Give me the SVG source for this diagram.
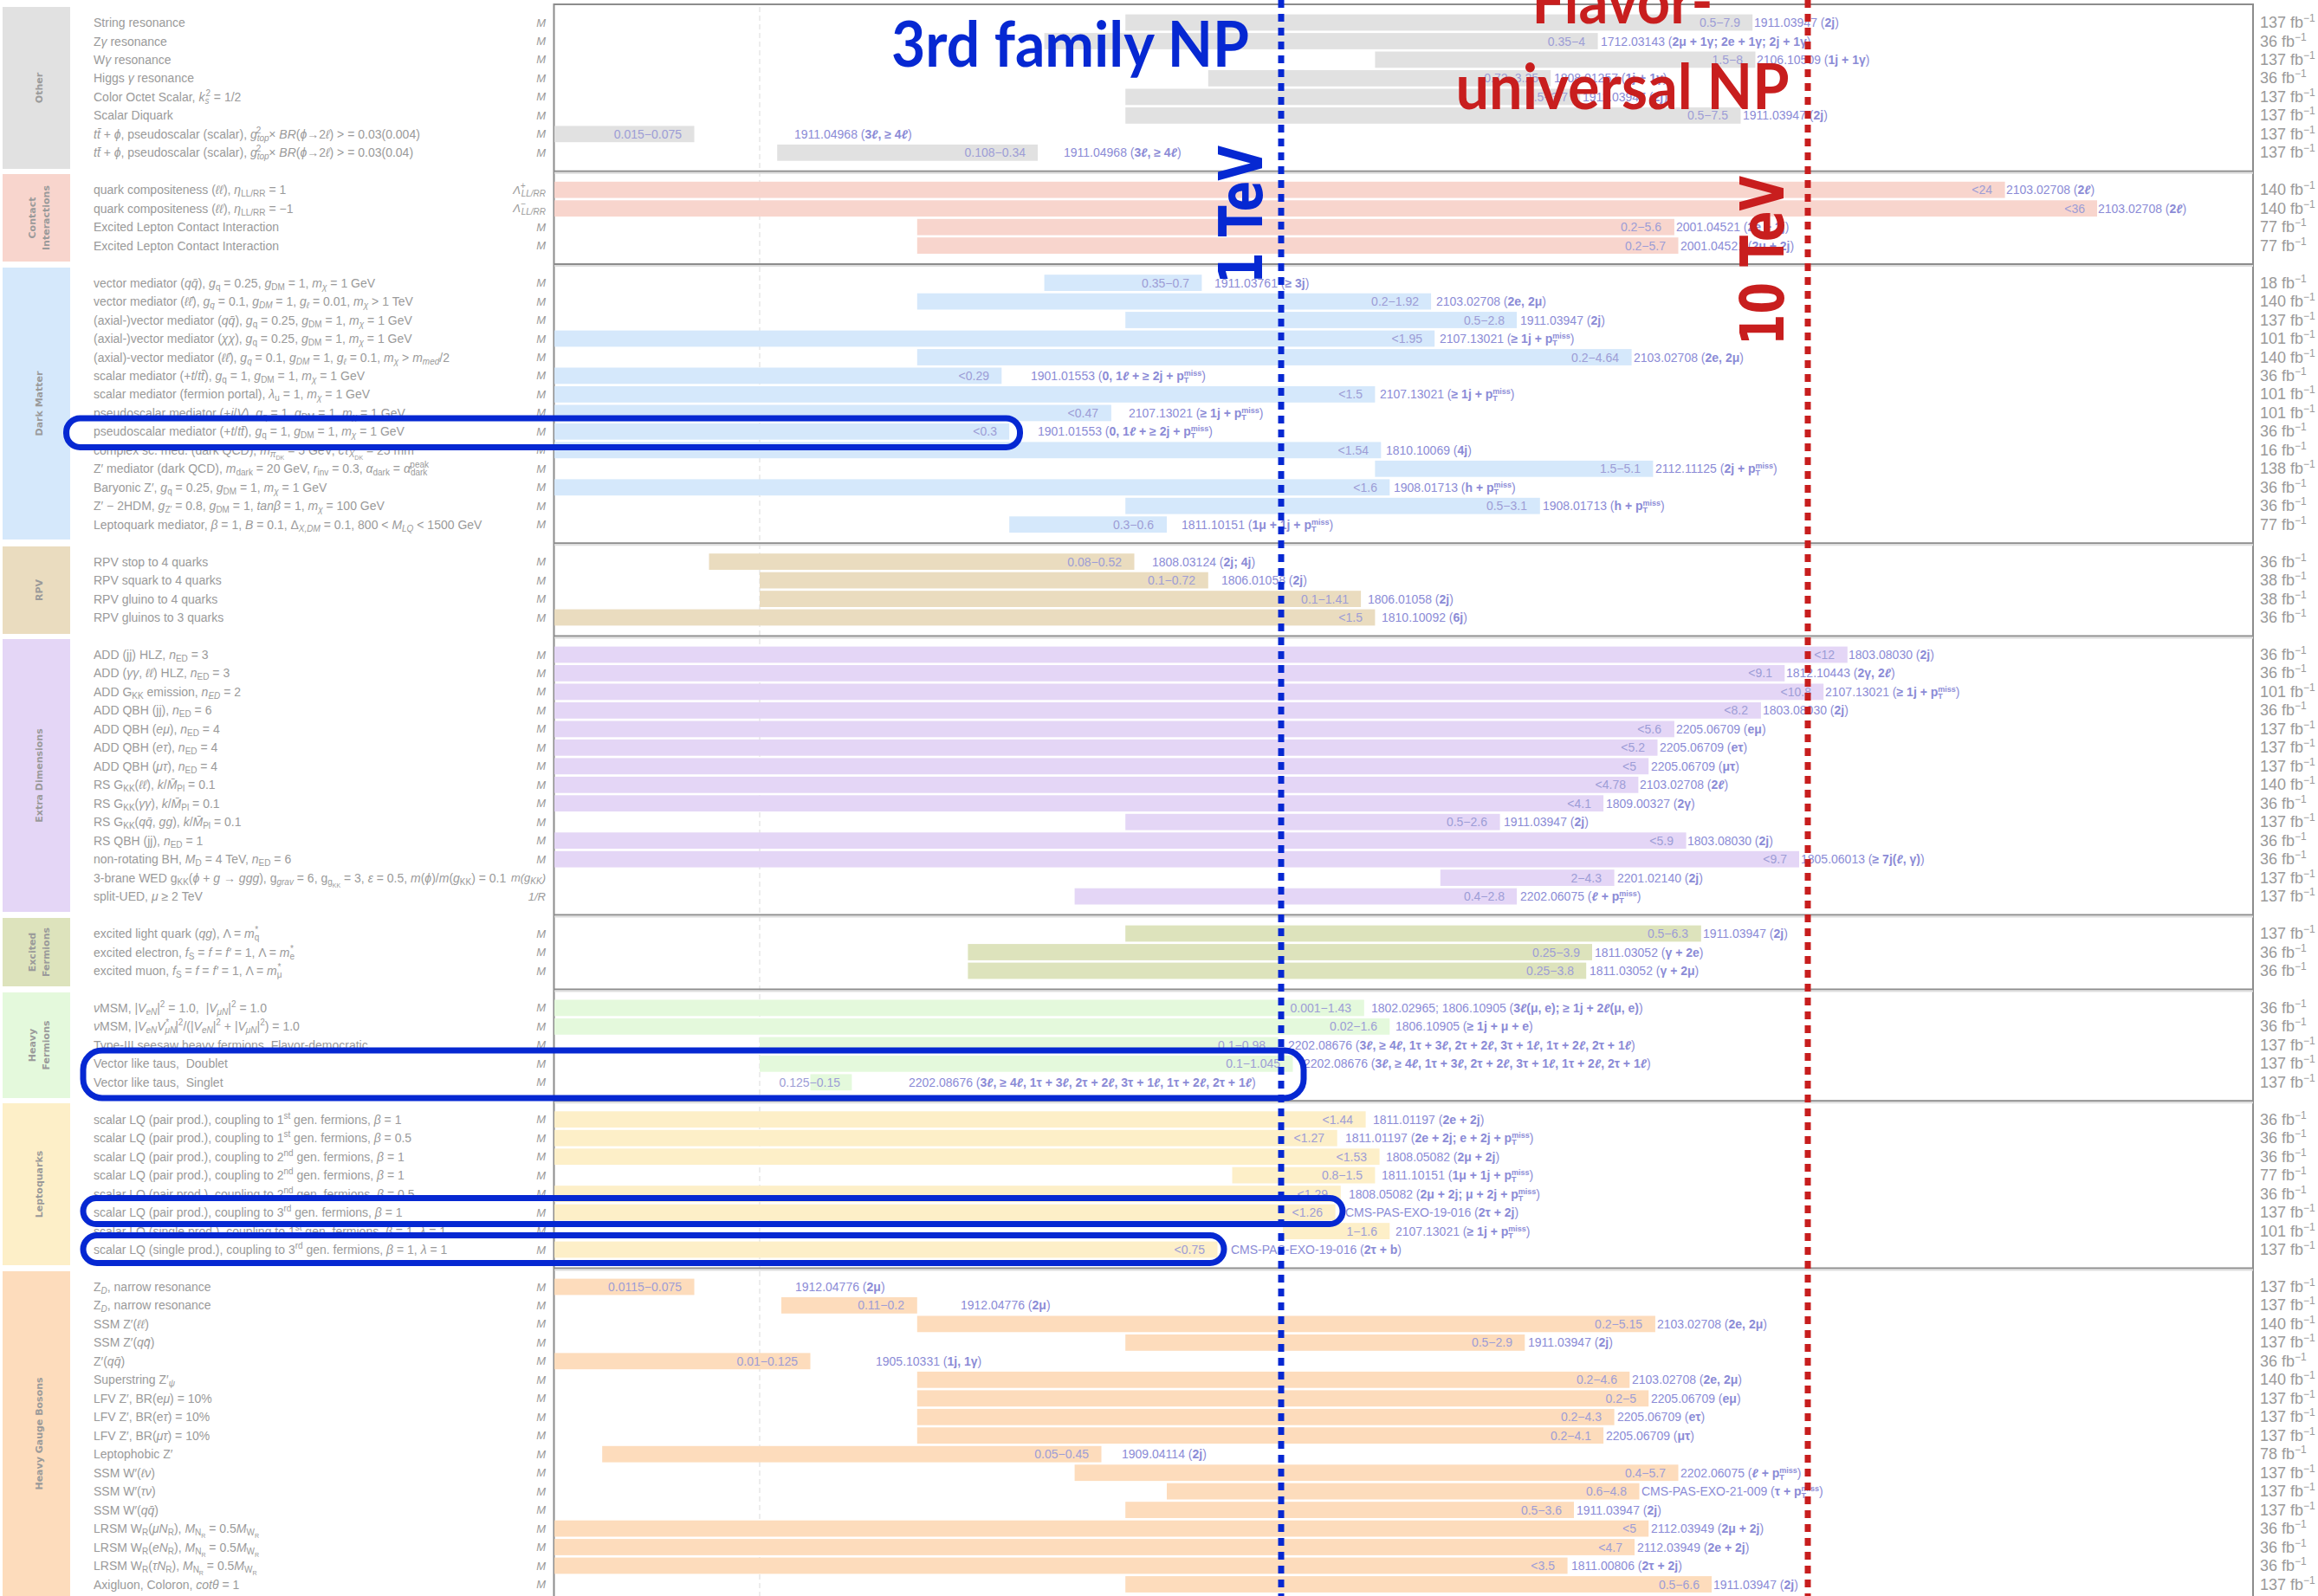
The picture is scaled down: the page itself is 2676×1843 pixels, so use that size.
<svg xmlns="http://www.w3.org/2000/svg" width="2676" height="1843" viewBox="0 0 2676 1843">
<style>
text{font-family:"Liberation Sans",Arial,sans-serif}
.lab{font-size:14px;fill:#9a9a9a}
.mm{font-size:13px;font-style:italic;fill:#9a9a9a;text-anchor:end}
.rng{font-size:14px;fill:#9d9dd6;text-anchor:end}
.ref{font-size:14px;fill:#8b8bd6}
.lumi{font-size:18px;fill:#9a9a9a}
.cat{font-family:"DejaVu Sans",sans-serif;font-size:11px;font-weight:bold;fill:#9a9a9a;text-anchor:middle}
.b{font-weight:bold}
.i{font-style:italic}
.s{font-size:10px;baseline-shift:-3px}
.u{font-size:10px;baseline-shift:6px}
.ss{font-size:7px;baseline-shift:-6px}
.rs{font-size:9px;baseline-shift:-3px}
.ru{font-size:9px;baseline-shift:5px}
.lu{font-size:12px;baseline-shift:7px}
.c0{fill:#e1e1e1}.c1{fill:#f8d5cd}.c2{fill:#d5e8fb}.c3{fill:#eadcbf}.c4{fill:#e4d6f6}.c5{fill:#dde3bc}.c6{fill:#e4f9dc}.c7{fill:#fdefc8}.c8{fill:#fddcbc}
.sep{stroke:#8c8c8c;stroke-width:2}
.sep2{stroke:#dedede;stroke-width:2}
.frame{stroke:#8c8c8c;stroke-width:2;fill:none}
.hl{fill:none;stroke:#0628d2;stroke-width:7}
.big{font-family:Lato,"Liberation Sans",sans-serif;font-weight:bold;font-size:72px}
.bigd{font-family:"DejaVu Sans",sans-serif;font-weight:bold;font-size:70px}
</style>

<g id="categories">
<g id="cat-other"><rect class="c0" x="3" y="8" width="78" height="187"/><text class="cat" transform="translate(49,101.5) rotate(-90)">Other</text></g>
<g id="cat-contact"><rect class="c1" x="3" y="201" width="78" height="101"/><text class="cat" transform="translate(41,251.5) rotate(-90)">Contact</text><text class="cat" transform="translate(57,251.5) rotate(-90)">Interactions</text></g>
<g id="cat-dm"><rect class="c2" x="3" y="309" width="78" height="314"/><text class="cat" transform="translate(49,466) rotate(-90)">Dark Matter</text></g>
<g id="cat-rpv"><rect class="c3" x="3" y="631" width="78" height="101"/><text class="cat" transform="translate(49,681.5) rotate(-90)">RPV</text></g>
<g id="cat-ed"><rect class="c4" x="3" y="738" width="78" height="315"/><text class="cat" transform="translate(49,895.5) rotate(-90)">Extra Dimensions</text></g>
<g id="cat-exf"><rect class="c5" x="3" y="1060" width="78" height="79"/><text class="cat" transform="translate(41,1099.5) rotate(-90)">Excited</text><text class="cat" transform="translate(57,1099.5) rotate(-90)">Fermions</text></g>
<g id="cat-hf"><rect class="c6" x="3" y="1146" width="78" height="122"/><text class="cat" transform="translate(41,1207) rotate(-90)">Heavy</text><text class="cat" transform="translate(57,1207) rotate(-90)">Fermions</text></g>
<g id="cat-lq"><rect class="c7" x="3" y="1274" width="78" height="187"/><text class="cat" transform="translate(49,1367.5) rotate(-90)">Leptoquarks</text></g>
<g id="cat-hgb"><rect class="c8" x="3" y="1468" width="78" height="375"/><text class="cat" transform="translate(49,1655.5) rotate(-90)">Heavy Gauge Bosons</text></g>
</g>

<g id="frame">
<line x1="877" y1="8" x2="877" y2="1843" stroke="#e8e8e8" stroke-width="1.5" stroke-dasharray="6 4"/>
<path class="frame" d="M639.5,1843 V5 H2601 V1843"/>
<line class="sep" x1="640" y1="197.8" x2="2601" y2="197.8"/><line class="sep2" x1="640" y1="199.8" x2="2601" y2="199.8"/>
<line class="sep" x1="640" y1="305.1" x2="2601" y2="305.1"/><line class="sep2" x1="640" y1="307.1" x2="2601" y2="307.1"/>
<line class="sep" x1="640" y1="627.2" x2="2601" y2="627.2"/><line class="sep2" x1="640" y1="629.2" x2="2601" y2="629.2"/>
<line class="sep" x1="640" y1="734.5" x2="2601" y2="734.5"/><line class="sep2" x1="640" y1="736.5" x2="2601" y2="736.5"/>
<line class="sep" x1="640" y1="1056.6" x2="2601" y2="1056.6"/><line class="sep2" x1="640" y1="1058.6" x2="2601" y2="1058.6"/>
<line class="sep" x1="640" y1="1142.4" x2="2601" y2="1142.4"/><line class="sep2" x1="640" y1="1144.4" x2="2601" y2="1144.4"/>
<line class="sep" x1="640" y1="1271.3" x2="2601" y2="1271.3"/><line class="sep2" x1="640" y1="1273.3" x2="2601" y2="1273.3"/>
<line class="sep" x1="640" y1="1464.5" x2="2601" y2="1464.5"/><line class="sep2" x1="640" y1="1466.5" x2="2601" y2="1466.5"/>
</g>

<g id="rows">
<!-- Other -->
<g id="r0" transform="translate(0,26)"><rect class="c0" x="1299.2" y="-9.4" width="724" height="18.8"/><text class="lab" x="108" y="5">String resonance</text><text class="mm" x="630" y="4.5">M</text><text class="rng" x="2009" y="5">0.5−7.9</text><text class="ref" x="2025" y="5">1911.03947 (<tspan class="b">2j</tspan>)</text><text class="lumi" x="2609" y="6">137 fb<tspan class="lu">−1</tspan></text></g>
<g id="r1" transform="translate(0,47.5)"><rect class="c0" x="1205.6" y="-9.4" width="639" height="18.8"/><text class="lab" x="108" y="5">Z<tspan class="i">γ</tspan> resonance</text><text class="mm" x="630" y="4.5">M</text><text class="rng" x="1830" y="5">0.35−4</text><text class="ref" x="1848" y="5">1712.03143 (<tspan class="b">2μ + 1γ; 2e + 1γ; 2j + 1γ</tspan>)</text><text class="lumi" x="2609" y="6">36 fb<tspan class="lu">−1</tspan></text></g>
<g id="r2" transform="translate(0,68.9)"><rect class="c0" x="1587.4" y="-9.4" width="439.1" height="18.8"/><text class="lab" x="108" y="5">W<tspan class="i">γ</tspan> resonance</text><text class="mm" x="630" y="4.5">M</text><text class="rng" x="2012" y="5">1.5−8</text><text class="ref" x="2028" y="5">2106.10509 (<tspan class="b">1j + 1γ</tspan>)</text><text class="lumi" x="2609" y="6">137 fb<tspan class="lu">−1</tspan></text></g>
<g id="r3" transform="translate(0,90.4)"><rect class="c0" x="1394.8" y="-9.4" width="395.4" height="18.8"/><text class="lab" x="108" y="5">Higgs <tspan class="i">γ</tspan> resonance</text><text class="mm" x="630" y="4.5">M</text><text class="rng" x="1776" y="5">0.72−3.25</text><text class="ref" x="1794" y="5">1808.01257 (<tspan class="b">1j + 1γ</tspan>)</text><text class="lumi" x="2609" y="6">36 fb<tspan class="lu">−1</tspan></text></g>
<g id="r4" transform="translate(0,111.9)"><rect class="c0" x="1299.2" y="-9.4" width="525" height="18.8"/><text class="lab" x="108" y="5">Color Octet Scalar, <tspan class="i">k</tspan><tspan class="s i">s</tspan><tspan class="u" dx="-4">2</tspan> = 1/2</text><text class="mm" x="630" y="4.5">M</text><text class="rng" x="1810" y="5">0.5−3.7</text><text class="ref" x="1827" y="5">1911.03947 (<tspan class="b">2j</tspan>)</text><text class="lumi" x="2609" y="6">137 fb<tspan class="lu">−1</tspan></text></g>
<g id="r5" transform="translate(0,133.4)"><rect class="c0" x="1299.2" y="-9.4" width="710.3" height="18.8"/><text class="lab" x="108" y="5">Scalar Diquark</text><text class="mm" x="630" y="4.5">M</text><text class="rng" x="1995" y="5">0.5−7.5</text><text class="ref" x="2012" y="5">1911.03947 (<tspan class="b">2j</tspan>)</text><text class="lumi" x="2609" y="6">137 fb<tspan class="lu">−1</tspan></text></g>
<g id="r6" transform="translate(0,154.8)"><rect class="c0" x="640" y="-9.4" width="161.5" height="18.8"/><text class="lab" x="108" y="5"><tspan class="i">tt̄</tspan> + <tspan class="i">ϕ</tspan>, pseudoscalar (scalar), <tspan class="i">g</tspan><tspan class="s i">top</tspan><tspan class="u" dx="-15">2</tspan><tspan dx="9">× </tspan><tspan class="i">BR</tspan>(<tspan class="i">ϕ</tspan>→2<tspan class="i">ℓ</tspan>) &gt; = 0.03(0.004)</text><text class="mm" x="630" y="4.5">M</text><text class="rng" x="787" y="5">0.015−0.075</text><text class="ref" x="917" y="5">1911.04968 (<tspan class="b">3<tspan class="i">ℓ</tspan>, ≥ 4<tspan class="i">ℓ</tspan></tspan>)</text><text class="lumi" x="2609" y="6">137 fb<tspan class="lu">−1</tspan></text></g>
<g id="r7" transform="translate(0,176.3)"><rect class="c0" x="897.2" y="-9.4" width="300.8" height="18.8"/><text class="lab" x="108" y="5"><tspan class="i">tt̄</tspan> + <tspan class="i">ϕ</tspan>, pseudoscalar (scalar), <tspan class="i">g</tspan><tspan class="s i">top</tspan><tspan class="u" dx="-15">2</tspan><tspan dx="9">× </tspan><tspan class="i">BR</tspan>(<tspan class="i">ϕ</tspan>→2<tspan class="i">ℓ</tspan>) &gt; = 0.03(0.04)</text><text class="mm" x="630" y="4.5">M</text><text class="rng" x="1184" y="5">0.108−0.34</text><text class="ref" x="1228" y="5">1911.04968 (<tspan class="b">3<tspan class="i">ℓ</tspan>, ≥ 4<tspan class="i">ℓ</tspan></tspan>)</text><text class="lumi" x="2609" y="6">137 fb<tspan class="lu">−1</tspan></text></g>
<!-- Contact -->
<g id="r9" transform="translate(0,219.2)"><rect class="c1" x="640" y="-9.4" width="1674.6" height="18.8"/><text class="lab" x="108" y="5">quark compositeness (<tspan class="i">ℓℓ</tspan>), <tspan class="i">η</tspan><tspan class="s">LL/RR</tspan> = 1</text><text class="mm" x="630" y="4.5">Λ<tspan class="u">+</tspan><tspan class="s" dx="-5">LL/RR</tspan></text><text class="rng" x="2300" y="5">&lt;24</text><text class="ref" x="2316" y="5">2103.02708 (<tspan class="b">2<tspan class="i">ℓ</tspan></tspan>)</text><text class="lumi" x="2609" y="6">140 fb<tspan class="lu">−1</tspan></text></g>
<g id="r10" transform="translate(0,240.7)"><rect class="c1" x="640" y="-9.4" width="1781" height="18.8"/><text class="lab" x="108" y="5">quark compositeness (<tspan class="i">ℓℓ</tspan>), <tspan class="i">η</tspan><tspan class="s">LL/RR</tspan> = −1</text><text class="mm" x="630" y="4.5">Λ<tspan class="u">−</tspan><tspan class="s" dx="-5">LL/RR</tspan></text><text class="rng" x="2407" y="5">&lt;36</text><text class="ref" x="2422" y="5">2103.02708 (<tspan class="b">2<tspan class="i">ℓ</tspan></tspan>)</text><text class="lumi" x="2609" y="6">140 fb<tspan class="lu">−1</tspan></text></g>
<g id="r11" transform="translate(0,262.2)"><rect class="c1" x="1058.8" y="-9.4" width="874.1" height="18.8"/><text class="lab" x="108" y="5">Excited Lepton Contact Interaction</text><text class="mm" x="630" y="4.5">M</text><text class="rng" x="1918" y="5">0.2−5.6</text><text class="ref" x="1935" y="5">2001.04521 (<tspan class="b">2e + 2j</tspan>)</text><text class="lumi" x="2609" y="6">77 fb<tspan class="lu">−1</tspan></text></g>
<g id="r12" transform="translate(0,283.6)"><rect class="c1" x="1058.8" y="-9.4" width="878.7" height="18.8"/><text class="lab" x="108" y="5">Excited Lepton Contact Interaction</text><text class="mm" x="630" y="4.5">M</text><text class="rng" x="1923" y="5">0.2−5.7</text><text class="ref" x="1940" y="5">2001.04521 (<tspan class="b">2μ + 2j</tspan>)</text><text class="lumi" x="2609" y="6">77 fb<tspan class="lu">−1</tspan></text></g>
<!-- Dark Matter -->
<g id="r14" transform="translate(0,326.6)"><rect class="c2" x="1205.6" y="-9.4" width="181.8" height="18.8"/><text class="lab" x="108" y="5">vector mediator (<tspan class="i">qq̄</tspan>), <tspan class="i">g</tspan><tspan class="s">q</tspan> = 0.25, <tspan class="i">g</tspan><tspan class="s">DM</tspan> = 1, <tspan class="i">m</tspan><tspan class="s i">χ</tspan> = 1 GeV</text><text class="mm" x="630" y="4.5">M</text><text class="rng" x="1373" y="5">0.35−0.7</text><text class="ref" x="1402" y="5">1911.03761 (<tspan class="b">≥ 3j</tspan>)</text><text class="lumi" x="2609" y="6">18 fb<tspan class="lu">−1</tspan></text></g>
<g id="r15" transform="translate(0,348.1)"><rect class="c2" x="1058.8" y="-9.4" width="593.3" height="18.8"/><text class="lab" x="108" y="5">vector mediator (<tspan class="i">ℓℓ̄</tspan>), <tspan class="i">g</tspan><tspan class="s i">q</tspan> = 0.1, <tspan class="i">g</tspan><tspan class="s i">DM</tspan> = 1, <tspan class="i">g</tspan><tspan class="s i">ℓ</tspan> = 0.01, <tspan class="i">m</tspan><tspan class="s i">χ</tspan> &gt; 1 TeV</text><text class="mm" x="630" y="4.5">M</text><text class="rng" x="1638" y="5">0.2−1.92</text><text class="ref" x="1658" y="5">2103.02708 (<tspan class="b">2e, 2μ</tspan>)</text><text class="lumi" x="2609" y="6">140 fb<tspan class="lu">−1</tspan></text></g>
<g id="r16" transform="translate(0,369.5)"><rect class="c2" x="1299.2" y="-9.4" width="451.9" height="18.8"/><text class="lab" x="108" y="5">(axial-)vector mediator (<tspan class="i">qq̄</tspan>), <tspan class="i">g</tspan><tspan class="s">q</tspan> = 0.25, <tspan class="i">g</tspan><tspan class="s">DM</tspan> = 1, <tspan class="i">m</tspan><tspan class="s i">χ</tspan> = 1 GeV</text><text class="mm" x="630" y="4.5">M</text><text class="rng" x="1737" y="5">0.5−2.8</text><text class="ref" x="1755" y="5">1911.03947 (<tspan class="b">2j</tspan>)</text><text class="lumi" x="2609" y="6">137 fb<tspan class="lu">−1</tspan></text></g>
<g id="r17" transform="translate(0,391)"><rect class="c2" x="640" y="-9.4" width="1016.2" height="18.8"/><text class="lab" x="108" y="5">(axial-)vector mediator (<tspan class="i">χχ</tspan>), <tspan class="i">g</tspan><tspan class="s">q</tspan> = 0.25, <tspan class="i">g</tspan><tspan class="s">DM</tspan> = 1, <tspan class="i">m</tspan><tspan class="s i">χ</tspan> = 1 GeV</text><text class="mm" x="630" y="4.5">M</text><text class="rng" x="1642" y="5">&lt;1.95</text><text class="ref" x="1662" y="5">2107.13021 (<tspan class="b">≥ 1j + p<tspan class="rs">T</tspan><tspan class="ru" dx="-5.5">miss</tspan></tspan>)</text><text class="lumi" x="2609" y="6">101 fb<tspan class="lu">−1</tspan></text></g>
<g id="r18" transform="translate(0,412.5)"><rect class="c2" x="1058.8" y="-9.4" width="824.8" height="18.8"/><text class="lab" x="108" y="5">(axial)-vector mediator (<tspan class="i">ℓℓ̄</tspan>), <tspan class="i">g</tspan><tspan class="s i">q</tspan> = 0.1, <tspan class="i">g</tspan><tspan class="s i">DM</tspan> = 1, <tspan class="i">g</tspan><tspan class="s i">ℓ</tspan> = 0.1, <tspan class="i">m</tspan><tspan class="s i">χ</tspan> &gt; <tspan class="i">m</tspan><tspan class="s i">med</tspan>/2</text><text class="mm" x="630" y="4.5">M</text><text class="rng" x="1869" y="5">0.2−4.64</text><text class="ref" x="1886" y="5">2103.02708 (<tspan class="b">2e, 2μ</tspan>)</text><text class="lumi" x="2609" y="6">140 fb<tspan class="lu">−1</tspan></text></g>
<g id="r19" transform="translate(0,433.9)"><rect class="c2" x="640" y="-9.4" width="516.3" height="18.8"/><text class="lab" x="108" y="5">scalar mediator (+<tspan class="i">t</tspan>/<tspan class="i">tt̄</tspan>), <tspan class="i">g</tspan><tspan class="s">q</tspan> = 1, <tspan class="i">g</tspan><tspan class="s">DM</tspan> = 1, <tspan class="i">m</tspan><tspan class="s i">χ</tspan> = 1 GeV</text><text class="mm" x="630" y="4.5">M</text><text class="rng" x="1142" y="5">&lt;0.29</text><text class="ref" x="1190" y="5">1901.01553 (<tspan class="b">0, 1<tspan class="i">ℓ</tspan> + ≥ 2j + p<tspan class="rs">T</tspan><tspan class="ru" dx="-5.5">miss</tspan></tspan>)</text><text class="lumi" x="2609" y="6">36 fb<tspan class="lu">−1</tspan></text></g>
<g id="r20" transform="translate(0,455.4)"><rect class="c2" x="640" y="-9.4" width="947.4" height="18.8"/><text class="lab" x="108" y="5">scalar mediator (fermion portal), <tspan class="i">λ</tspan><tspan class="s">u</tspan> = 1, <tspan class="i">m</tspan><tspan class="s i">χ</tspan> = 1 GeV</text><text class="mm" x="630" y="4.5">M</text><text class="rng" x="1573" y="5">&lt;1.5</text><text class="ref" x="1593" y="5">2107.13021 (<tspan class="b">≥ 1j + p<tspan class="rs">T</tspan><tspan class="ru" dx="-5.5">miss</tspan></tspan>)</text><text class="lumi" x="2609" y="6">101 fb<tspan class="lu">−1</tspan></text></g>
<g id="r21" transform="translate(0,476.9)"><rect class="c2" x="640" y="-9.4" width="642.9" height="18.8"/><text class="lab" x="108" y="5">pseudoscalar mediator (+<tspan class="i">j</tspan>/<tspan class="i">V</tspan>), <tspan class="i">g</tspan><tspan class="s">q</tspan> = 1, <tspan class="i">g</tspan><tspan class="s">DM</tspan> = 1, <tspan class="i">m</tspan><tspan class="s i">χ</tspan> = 1 GeV</text><text class="mm" x="630" y="4.5">M</text><text class="rng" x="1268" y="5">&lt;0.47</text><text class="ref" x="1303" y="5">2107.13021 (<tspan class="b">≥ 1j + p<tspan class="rs">T</tspan><tspan class="ru" dx="-5.5">miss</tspan></tspan>)</text><text class="lumi" x="2609" y="6">101 fb<tspan class="lu">−1</tspan></text></g>
<g id="r22" transform="translate(0,498.3)"><rect class="c2" x="640" y="-9.4" width="525.2" height="18.8"/><text class="lab" x="108" y="5">pseudoscalar mediator (+<tspan class="i">t</tspan>/<tspan class="i">tt̄</tspan>), <tspan class="i">g</tspan><tspan class="s">q</tspan> = 1, <tspan class="i">g</tspan><tspan class="s">DM</tspan> = 1, <tspan class="i">m</tspan><tspan class="s i">χ</tspan> = 1 GeV</text><text class="mm" x="630" y="4.5">M</text><text class="rng" x="1151" y="5">&lt;0.3</text><text class="ref" x="1198" y="5">1901.01553 (<tspan class="b">0, 1<tspan class="i">ℓ</tspan> + ≥ 2j + p<tspan class="rs">T</tspan><tspan class="ru" dx="-5.5">miss</tspan></tspan>)</text><text class="lumi" x="2609" y="6">36 fb<tspan class="lu">−1</tspan></text></g>
<g id="r23" transform="translate(0,519.8)"><rect class="c2" x="640" y="-9.4" width="954.3" height="18.8"/><text class="lab" x="108" y="5">complex sc. med. (dark QCD), <tspan class="i">m</tspan><tspan class="s i">π</tspan><tspan class="ss">DK</tspan> = 5 GeV, <tspan class="i">cτ</tspan><tspan class="s i">X</tspan><tspan class="ss">DK</tspan> = 25 mm</text><text class="mm" x="630" y="4.5">M</text><text class="rng" x="1580" y="5">&lt;1.54</text><text class="ref" x="1600" y="5">1810.10069 (<tspan class="b">4j</tspan>)</text><text class="lumi" x="2609" y="6">16 fb<tspan class="lu">−1</tspan></text></g>
<g id="r24" transform="translate(0,541.3)"><rect class="c2" x="1587.4" y="-9.4" width="321" height="18.8"/><text class="lab" x="108" y="5">Z′ mediator (dark QCD), <tspan class="i">m</tspan><tspan class="s">dark</tspan> = 20 GeV, <tspan class="i">r</tspan><tspan class="s">inv</tspan> = 0.3, <tspan class="i">α</tspan><tspan class="s">dark</tspan> = <tspan class="i">α</tspan><tspan class="s">dark</tspan><tspan class="u" dx="-20">peak</tspan></text><text class="mm" x="630" y="4.5">M</text><text class="rng" x="1894" y="5">1.5−5.1</text><text class="ref" x="1911" y="5">2112.11125 (<tspan class="b">2j + p<tspan class="rs">T</tspan><tspan class="ru" dx="-5.5">miss</tspan></tspan>)</text><text class="lumi" x="2609" y="6">138 fb<tspan class="lu">−1</tspan></text></g>
<g id="r25" transform="translate(0,562.8)"><rect class="c2" x="640" y="-9.4" width="964.3" height="18.8"/><text class="lab" x="108" y="5">Baryonic Z′, <tspan class="i">g</tspan><tspan class="s">q</tspan> = 0.25, <tspan class="i">g</tspan><tspan class="s">DM</tspan> = 1, <tspan class="i">m</tspan><tspan class="s i">χ</tspan> = 1 GeV</text><text class="mm" x="630" y="4.5">M</text><text class="rng" x="1590" y="5">&lt;1.6</text><text class="ref" x="1609" y="5">1908.01713 (<tspan class="b">h + p<tspan class="rs">T</tspan><tspan class="ru" dx="-5.5">miss</tspan></tspan>)</text><text class="lumi" x="2609" y="6">36 fb<tspan class="lu">−1</tspan></text></g>
<g id="r26" transform="translate(0,584.2)"><rect class="c2" x="1299.2" y="-9.4" width="478.6" height="18.8"/><text class="lab" x="108" y="5">Z′ − 2HDM, <tspan class="i">g</tspan><tspan class="s">Z′</tspan> = 0.8, <tspan class="i">g</tspan><tspan class="s">DM</tspan> = 1, <tspan class="i">tanβ</tspan> = 1, <tspan class="i">m</tspan><tspan class="s i">χ</tspan> = 100 GeV</text><text class="mm" x="630" y="4.5">M</text><text class="rng" x="1763" y="5">0.5−3.1</text><text class="ref" x="1781" y="5">1908.01713 (<tspan class="b">h + p<tspan class="rs">T</tspan><tspan class="ru" dx="-5.5">miss</tspan></tspan>)</text><text class="lumi" x="2609" y="6">36 fb<tspan class="lu">−1</tspan></text></g>
<g id="r27" transform="translate(0,605.7)"><rect class="c2" x="1165.2" y="-9.4" width="181.8" height="18.8"/><text class="lab" x="108" y="5">Leptoquark mediator, <tspan class="i">β</tspan> = 1, <tspan class="i">B</tspan> = 0.1, Δ<tspan class="s i">X,DM</tspan> = 0.1, 800 &lt; <tspan class="i">M</tspan><tspan class="s i">LQ</tspan> &lt; 1500 GeV</text><text class="mm" x="630" y="4.5">M</text><text class="rng" x="1332" y="5">0.3−0.6</text><text class="ref" x="1364" y="5">1811.10151 (<tspan class="b">1μ + 1j + p<tspan class="rs">T</tspan><tspan class="ru" dx="-5.5">miss</tspan></tspan>)</text><text class="lumi" x="2609" y="6">77 fb<tspan class="lu">−1</tspan></text></g>
<!-- RPV -->
<g id="r29" transform="translate(0,648.6)"><rect class="c3" x="818.5" y="-9.4" width="491" height="18.8"/><text class="lab" x="108" y="5">RPV stop to 4 quarks</text><text class="mm" x="630" y="4.5">M</text><text class="rng" x="1295" y="5">0.08−0.52</text><text class="ref" x="1330" y="5">1808.03124 (<tspan class="b">2j; 4j</tspan>)</text><text class="lumi" x="2609" y="6">36 fb<tspan class="lu">−1</tspan></text></g>
<g id="r30" transform="translate(0,670.1)"><rect class="c3" x="877" y="-9.4" width="517.8" height="18.8"/><text class="lab" x="108" y="5">RPV squark to 4 quarks</text><text class="mm" x="630" y="4.5">M</text><text class="rng" x="1380" y="5">0.1−0.72</text><text class="ref" x="1410" y="5">1806.01058 (<tspan class="b">2j</tspan>)</text><text class="lumi" x="2609" y="6">38 fb<tspan class="lu">−1</tspan></text></g>
<g id="r31" transform="translate(0,691.6)"><rect class="c3" x="877" y="-9.4" width="694.1" height="18.8"/><text class="lab" x="108" y="5">RPV gluino to 4 quarks</text><text class="mm" x="630" y="4.5">M</text><text class="rng" x="1557" y="5">0.1−1.41</text><text class="ref" x="1579" y="5">1806.01058 (<tspan class="b">2j</tspan>)</text><text class="lumi" x="2609" y="6">38 fb<tspan class="lu">−1</tspan></text></g>
<g id="r32" transform="translate(0,713)"><rect class="c3" x="640" y="-9.4" width="947.4" height="18.8"/><text class="lab" x="108" y="5">RPV gluinos to 3 quarks</text><text class="mm" x="630" y="4.5">M</text><text class="rng" x="1573" y="5">&lt;1.5</text><text class="ref" x="1595" y="5">1810.10092 (<tspan class="b">6j</tspan>)</text><text class="lumi" x="2609" y="6">36 fb<tspan class="lu">−1</tspan></text></g>
<!-- Extra Dimensions -->
<g id="r34" transform="translate(0,756)"><rect class="c4" x="640" y="-9.4" width="1492.8" height="18.8"/><text class="lab" x="108" y="5">ADD (jj) HLZ, <tspan class="i">n</tspan><tspan class="s">ED</tspan> = 3</text><text class="mm" x="630" y="4.5">M</text><text class="rng" x="2118" y="5">&lt;12</text><text class="ref" x="2134" y="5">1803.08030 (<tspan class="b">2j</tspan>)</text><text class="lumi" x="2609" y="6">36 fb<tspan class="lu">−1</tspan></text></g>
<g id="r35" transform="translate(0,777.4)"><rect class="c4" x="640" y="-9.4" width="1420.3" height="18.8"/><text class="lab" x="108" y="5">ADD (<tspan class="i">γγ</tspan>, <tspan class="i">ℓℓ</tspan>) HLZ, <tspan class="i">n</tspan><tspan class="s">ED</tspan> = 3</text><text class="mm" x="630" y="4.5">M</text><text class="rng" x="2046" y="5">&lt;9.1</text><text class="ref" x="2062" y="5">1812.10443 (<tspan class="b">2γ, 2<tspan class="i">ℓ</tspan></tspan>)</text><text class="lumi" x="2609" y="6">36 fb<tspan class="lu">−1</tspan></text></g>
<g id="r36" transform="translate(0,798.9)"><rect class="c4" x="640" y="-9.4" width="1465.2" height="18.8"/><text class="lab" x="108" y="5">ADD G<tspan class="s">KK</tspan> emission, <tspan class="i">n</tspan><tspan class="s i">ED</tspan> = 2</text><text class="mm" x="630" y="4.5">M</text><text class="rng" x="2091" y="5">&lt;10.8</text><text class="ref" x="2107" y="5">2107.13021 (<tspan class="b">≥ 1j + p<tspan class="rs">T</tspan><tspan class="ru" dx="-5.5">miss</tspan></tspan>)</text><text class="lumi" x="2609" y="6">101 fb<tspan class="lu">−1</tspan></text></g>
<g id="r37" transform="translate(0,820.4)"><rect class="c4" x="640" y="-9.4" width="1392.9" height="18.8"/><text class="lab" x="108" y="5">ADD QBH (jj), <tspan class="i">n</tspan><tspan class="s">ED</tspan> = 6</text><text class="mm" x="630" y="4.5">M</text><text class="rng" x="2018" y="5">&lt;8.2</text><text class="ref" x="2035" y="5">1803.08030 (<tspan class="b">2j</tspan>)</text><text class="lumi" x="2609" y="6">36 fb<tspan class="lu">−1</tspan></text></g>
<g id="r38" transform="translate(0,841.9)"><rect class="c4" x="640" y="-9.4" width="1292.9" height="18.8"/><text class="lab" x="108" y="5">ADD QBH (<tspan class="i">eμ</tspan>), <tspan class="i">n</tspan><tspan class="s">ED</tspan> = 4</text><text class="mm" x="630" y="4.5">M</text><text class="rng" x="1918" y="5">&lt;5.6</text><text class="ref" x="1935" y="5">2205.06709 (<tspan class="b">eμ</tspan>)</text><text class="lumi" x="2609" y="6">137 fb<tspan class="lu">−1</tspan></text></g>
<g id="r39" transform="translate(0,863.3)"><rect class="c4" x="640" y="-9.4" width="1273.5" height="18.8"/><text class="lab" x="108" y="5">ADD QBH (<tspan class="i">eτ</tspan>), <tspan class="i">n</tspan><tspan class="s">ED</tspan> = 4</text><text class="mm" x="630" y="4.5">M</text><text class="rng" x="1899" y="5">&lt;5.2</text><text class="ref" x="1916" y="5">2205.06709 (<tspan class="b">eτ</tspan>)</text><text class="lumi" x="2609" y="6">137 fb<tspan class="lu">−1</tspan></text></g>
<g id="r40" transform="translate(0,884.8)"><rect class="c4" x="640" y="-9.4" width="1263.2" height="18.8"/><text class="lab" x="108" y="5">ADD QBH (<tspan class="i">μτ</tspan>), <tspan class="i">n</tspan><tspan class="s">ED</tspan> = 4</text><text class="mm" x="630" y="4.5">M</text><text class="rng" x="1889" y="5">&lt;5</text><text class="ref" x="1906" y="5">2205.06709 (<tspan class="b">μτ</tspan>)</text><text class="lumi" x="2609" y="6">137 fb<tspan class="lu">−1</tspan></text></g>
<g id="r41" transform="translate(0,906.3)"><rect class="c4" x="640" y="-9.4" width="1251.4" height="18.8"/><text class="lab" x="108" y="5">RS G<tspan class="s">KK</tspan>(<tspan class="i">ℓℓ</tspan>), <tspan class="i">k</tspan>/<tspan class="i">M̄</tspan><tspan class="s">Pl</tspan> = 0.1</text><text class="mm" x="630" y="4.5">M</text><text class="rng" x="1877" y="5">&lt;4.78</text><text class="ref" x="1893" y="5">2103.02708 (<tspan class="b">2<tspan class="i">ℓ</tspan></tspan>)</text><text class="lumi" x="2609" y="6">140 fb<tspan class="lu">−1</tspan></text></g>
<g id="r42" transform="translate(0,927.7)"><rect class="c4" x="640" y="-9.4" width="1211.1" height="18.8"/><text class="lab" x="108" y="5">RS G<tspan class="s">KK</tspan>(<tspan class="i">γγ</tspan>), <tspan class="i">k</tspan>/<tspan class="i">M̄</tspan><tspan class="s">Pl</tspan> = 0.1</text><text class="mm" x="630" y="4.5">M</text><text class="rng" x="1837" y="5">&lt;4.1</text><text class="ref" x="1854" y="5">1809.00327 (<tspan class="b">2γ</tspan>)</text><text class="lumi" x="2609" y="6">36 fb<tspan class="lu">−1</tspan></text></g>
<g id="r43" transform="translate(0,949.2)"><rect class="c4" x="1299.2" y="-9.4" width="432.4" height="18.8"/><text class="lab" x="108" y="5">RS G<tspan class="s">KK</tspan>(<tspan class="i">qq̄</tspan>, <tspan class="i">gg</tspan>), <tspan class="i">k</tspan>/<tspan class="i">M̄</tspan><tspan class="s">Pl</tspan> = 0.1</text><text class="mm" x="630" y="4.5">M</text><text class="rng" x="1717" y="5">0.5−2.6</text><text class="ref" x="1736" y="5">1911.03947 (<tspan class="b">2j</tspan>)</text><text class="lumi" x="2609" y="6">137 fb<tspan class="lu">−1</tspan></text></g>
<g id="r44" transform="translate(0,970.7)"><rect class="c4" x="640" y="-9.4" width="1306.6" height="18.8"/><text class="lab" x="108" y="5">RS QBH (jj), <tspan class="i">n</tspan><tspan class="s">ED</tspan> = 1</text><text class="mm" x="630" y="4.5">M</text><text class="rng" x="1932" y="5">&lt;5.9</text><text class="ref" x="1948" y="5">1803.08030 (<tspan class="b">2j</tspan>)</text><text class="lumi" x="2609" y="6">36 fb<tspan class="lu">−1</tspan></text></g>
<g id="r45" transform="translate(0,992.2)"><rect class="c4" x="640" y="-9.4" width="1437" height="18.8"/><text class="lab" x="108" y="5">non-rotating BH, <tspan class="i">M</tspan><tspan class="s">D</tspan> = 4 TeV, <tspan class="i">n</tspan><tspan class="s">ED</tspan> = 6</text><text class="mm" x="630" y="4.5">M</text><text class="rng" x="2063" y="5">&lt;9.7</text><text class="ref" x="2079" y="5">1805.06013 (<tspan class="b">≥ 7j(<tspan class="i">ℓ</tspan>, γ)</tspan>)</text><text class="lumi" x="2609" y="6">36 fb<tspan class="lu">−1</tspan></text></g>
<g id="r46" transform="translate(0,1013.6)"><rect class="c4" x="1662.8" y="-9.4" width="200.8" height="18.8"/><text class="lab" x="108" y="5">3-brane WED g<tspan class="s">KK</tspan>(<tspan class="i">ϕ</tspan> + <tspan class="i">g</tspan> → <tspan class="i">ggg</tspan>), g<tspan class="s i">grav</tspan> = 6, g<tspan class="s">g</tspan><tspan class="ss">KK</tspan> = 3, <tspan class="i">ε</tspan> = 0.5, <tspan class="i">m</tspan>(<tspan class="i">ϕ</tspan>)/<tspan class="i">m</tspan>(<tspan class="i">g</tspan><tspan class="s">KK</tspan>) = 0.1</text><text class="mm" x="630" y="4.5">m(g<tspan class="s">KK</tspan>)</text><text class="rng" x="1849" y="5">2−4.3</text><text class="ref" x="1867" y="5">2201.02140 (<tspan class="b">2j</tspan>)</text><text class="lumi" x="2609" y="6">137 fb<tspan class="lu">−1</tspan></text></g>
<g id="r47" transform="translate(0,1035.1)"><rect class="c4" x="1240.6" y="-9.4" width="510.5" height="18.8"/><text class="lab" x="108" y="5">split-UED, <tspan class="i">μ</tspan> ≥ 2 TeV</text><text class="mm" x="630" y="4.5" font-style="normal">1/R</text><text class="rng" x="1737" y="5">0.4−2.8</text><text class="ref" x="1755" y="5">2202.06075 (<tspan class="b"><tspan class="i">ℓ</tspan> + p<tspan class="rs">T</tspan><tspan class="ru" dx="-5.5">miss</tspan></tspan>)</text><text class="lumi" x="2609" y="6">137 fb<tspan class="lu">−1</tspan></text></g>
<!-- Excited Fermions -->
<g id="r49" transform="translate(0,1078)"><rect class="c5" x="1299.2" y="-9.4" width="664.6" height="18.8"/><text class="lab" x="108" y="5">excited light quark (<tspan class="i">qg</tspan>), Λ = <tspan class="i">m</tspan><tspan class="s">q</tspan><tspan class="u" dx="-5">*</tspan></text><text class="mm" x="630" y="4.5">M</text><text class="rng" x="1949" y="5">0.5−6.3</text><text class="ref" x="1966" y="5">1911.03947 (<tspan class="b">2j</tspan>)</text><text class="lumi" x="2609" y="6">137 fb<tspan class="lu">−1</tspan></text></g>
<g id="r50" transform="translate(0,1099.5)"><rect class="c5" x="1117.4" y="-9.4" width="720.6" height="18.8"/><text class="lab" x="108" y="5">excited electron, <tspan class="i">f</tspan><tspan class="s">S</tspan> = <tspan class="i">f</tspan> = <tspan class="i">f′</tspan> = 1, Λ = <tspan class="i">m</tspan><tspan class="s">e</tspan><tspan class="u" dx="-5">*</tspan></text><text class="mm" x="630" y="4.5">M</text><text class="rng" x="1824" y="5">0.25−3.9</text><text class="ref" x="1841" y="5">1811.03052 (<tspan class="b">γ + 2e</tspan>)</text><text class="lumi" x="2609" y="6">36 fb<tspan class="lu">−1</tspan></text></g>
<g id="r51" transform="translate(0,1121)"><rect class="c5" x="1117.4" y="-9.4" width="713.8" height="18.8"/><text class="lab" x="108" y="5">excited muon, <tspan class="i">f</tspan><tspan class="s">S</tspan> = <tspan class="i">f</tspan> = <tspan class="i">f′</tspan> = 1, Λ = <tspan class="i">m</tspan><tspan class="s">μ</tspan><tspan class="u" dx="-5">*</tspan></text><text class="mm" x="630" y="4.5">M</text><text class="rng" x="1817" y="5">0.25−3.8</text><text class="ref" x="1835" y="5">1811.03052 (<tspan class="b">γ + 2μ</tspan>)</text><text class="lumi" x="2609" y="6">36 fb<tspan class="lu">−1</tspan></text></g>
<!-- Heavy Fermions -->
<g id="r53" transform="translate(0,1163.9)"><rect class="c6" x="640" y="-9.4" width="934.8" height="18.8"/><text class="lab" x="108" y="5"><tspan class="i">ν</tspan>MSM, |<tspan class="i">V</tspan><tspan class="s i">eN</tspan>|<tspan class="u">2</tspan> = 1.0, <tspan dx="4">|</tspan><tspan class="i">V</tspan><tspan class="s i">μN</tspan>|<tspan class="u">2</tspan> = 1.0</text><text class="mm" x="630" y="4.5">M</text><text class="rng" x="1560" y="5">0.001−1.43</text><text class="ref" x="1583" y="5">1802.02965; 1806.10905 (<tspan class="b">3<tspan class="i">ℓ</tspan>(μ, e); ≥ 1j + 2<tspan class="i">ℓ</tspan>(μ, e)</tspan>)</text><text class="lumi" x="2609" y="6">36 fb<tspan class="lu">−1</tspan></text></g>
<g id="r54" transform="translate(0,1185.4)"><rect class="c6" x="640" y="-9.4" width="964.3" height="18.8"/><text class="lab" x="108" y="5"><tspan class="i">ν</tspan>MSM, |<tspan class="i">V</tspan><tspan class="s i">eN</tspan><tspan class="i">V</tspan><tspan class="s i">μN</tspan><tspan class="u" dx="-12">*</tspan><tspan dx="7">|</tspan><tspan class="u">2</tspan>/(|<tspan class="i">V</tspan><tspan class="s i">eN</tspan>|<tspan class="u">2</tspan> + |<tspan class="i">V</tspan><tspan class="s i">μN</tspan>|<tspan class="u">2</tspan>) = 1.0</text><text class="mm" x="630" y="4.5">M</text><text class="rng" x="1590" y="5">0.02−1.6</text><text class="ref" x="1611" y="5">1806.10905 (<tspan class="b">≥ 1j + μ + e</tspan>)</text><text class="lumi" x="2609" y="6">36 fb<tspan class="lu">−1</tspan></text></g>
<g id="r55" transform="translate(0,1206.9)"><rect class="c6" x="877" y="-9.4" width="598.7" height="18.8"/><text class="lab" x="108" y="5">Type-III seesaw heavy fermions, Flavor-democratic</text><text class="mm" x="630" y="4.5">M</text><text class="rng" x="1461" y="5">0.1−0.98</text><text class="ref" x="1487" y="5">2202.08676 (<tspan class="b">3<tspan class="i">ℓ</tspan>, ≥ 4<tspan class="i">ℓ</tspan>, 1τ + 3<tspan class="i">ℓ</tspan>, 2τ + 2<tspan class="i">ℓ</tspan>, 3τ + 1<tspan class="i">ℓ</tspan>, 1τ + 2<tspan class="i">ℓ</tspan>, 2τ + 1<tspan class="i">ℓ</tspan></tspan>)</text><text class="lumi" x="2609" y="6">137 fb<tspan class="lu">−1</tspan></text></g>
<g id="r56" transform="translate(0,1228.3)"><rect class="c6" x="877" y="-9.4" width="615.5" height="18.8"/><text class="lab" x="108" y="5">Vector like taus, <tspan dx="4">Doublet</tspan></text><text class="mm" x="630" y="4.5">M</text><text class="rng" x="1478" y="5">0.1−1.045</text><text class="ref" x="1505" y="5">2202.08676 (<tspan class="b">3<tspan class="i">ℓ</tspan>, ≥ 4<tspan class="i">ℓ</tspan>, 1τ + 3<tspan class="i">ℓ</tspan>, 2τ + 2<tspan class="i">ℓ</tspan>, 3τ + 1<tspan class="i">ℓ</tspan>, 1τ + 2<tspan class="i">ℓ</tspan>, 2τ + 1<tspan class="i">ℓ</tspan></tspan>)</text><text class="lumi" x="2609" y="6">137 fb<tspan class="lu">−1</tspan></text></g>
<g id="r57" transform="translate(0,1249.8)"><rect class="c6" x="935.5" y="-9.4" width="47.9" height="18.8"/><text class="lab" x="108" y="5">Vector like taus, <tspan dx="4">Singlet</tspan></text><text class="mm" x="630" y="4.5">M</text><text class="rng" x="970" y="5">0.125−0.15</text><text class="ref" x="1049" y="5">2202.08676 (<tspan class="b">3<tspan class="i">ℓ</tspan>, ≥ 4<tspan class="i">ℓ</tspan>, 1τ + 3<tspan class="i">ℓ</tspan>, 2τ + 2<tspan class="i">ℓ</tspan>, 3τ + 1<tspan class="i">ℓ</tspan>, 1τ + 2<tspan class="i">ℓ</tspan>, 2τ + 1<tspan class="i">ℓ</tspan></tspan>)</text><text class="lumi" x="2609" y="6">137 fb<tspan class="lu">−1</tspan></text></g>
<!-- Leptoquarks -->
<g id="r59" transform="translate(0,1292.7)"><rect class="c7" x="640" y="-9.4" width="936.6" height="18.8"/><text class="lab" x="108" y="5">scalar LQ (pair prod.), coupling to 1<tspan class="u">st</tspan> gen. fermions, <tspan class="i">β</tspan> = 1</text><text class="mm" x="630" y="4.5">M</text><text class="rng" x="1562" y="5">&lt;1.44</text><text class="ref" x="1585" y="5">1811.01197 (<tspan class="b">2e + 2j</tspan>)</text><text class="lumi" x="2609" y="6">36 fb<tspan class="lu">−1</tspan></text></g>
<g id="r60" transform="translate(0,1314.2)"><rect class="c7" x="640" y="-9.4" width="903.7" height="18.8"/><text class="lab" x="108" y="5">scalar LQ (pair prod.), coupling to 1<tspan class="u">st</tspan> gen. fermions, <tspan class="i">β</tspan> = 0.5</text><text class="mm" x="630" y="4.5">M</text><text class="rng" x="1529" y="5">&lt;1.27</text><text class="ref" x="1553" y="5">1811.01197 (<tspan class="b">2e + 2j; e + 2j + p<tspan class="rs">T</tspan><tspan class="ru" dx="-5.5">miss</tspan></tspan>)</text><text class="lumi" x="2609" y="6">36 fb<tspan class="lu">−1</tspan></text></g>
<g id="r61" transform="translate(0,1335.7)"><rect class="c7" x="640" y="-9.4" width="952.6" height="18.8"/><text class="lab" x="108" y="5">scalar LQ (pair prod.), coupling to 2<tspan class="u">nd</tspan> gen. fermions, <tspan class="i">β</tspan> = 1</text><text class="mm" x="630" y="4.5">M</text><text class="rng" x="1578" y="5">&lt;1.53</text><text class="ref" x="1600" y="5">1808.05082 (<tspan class="b">2μ + 2j</tspan>)</text><text class="lumi" x="2609" y="6">36 fb<tspan class="lu">−1</tspan></text></g>
<g id="r62" transform="translate(0,1357.1)"><rect class="c7" x="1422.5" y="-9.4" width="164.9" height="18.8"/><text class="lab" x="108" y="5">scalar LQ (pair prod.), coupling to 2<tspan class="u">nd</tspan> gen. fermions, <tspan class="i">β</tspan> = 1</text><text class="mm" x="630" y="4.5">M</text><text class="rng" x="1573" y="5">0.8−1.5</text><text class="ref" x="1595" y="5">1811.10151 (<tspan class="b">1μ + 1j + p<tspan class="rs">T</tspan><tspan class="ru" dx="-5.5">miss</tspan></tspan>)</text><text class="lumi" x="2609" y="6">77 fb<tspan class="lu">−1</tspan></text></g>
<g id="r63" transform="translate(0,1378.6)"><rect class="c7" x="640" y="-9.4" width="907.8" height="18.8"/><text class="lab" x="108" y="5">scalar LQ (pair prod.), coupling to 2<tspan class="u">nd</tspan> gen. fermions, <tspan class="i">β</tspan> = 0.5</text><text class="mm" x="630" y="4.5">M</text><text class="rng" x="1533" y="5">&lt;1.29</text><text class="ref" x="1557" y="5">1808.05082 (<tspan class="b">2μ + 2j; μ + 2j + p<tspan class="rs">T</tspan><tspan class="ru" dx="-5.5">miss</tspan></tspan>)</text><text class="lumi" x="2609" y="6">36 fb<tspan class="lu">−1</tspan></text></g>
<g id="r64" transform="translate(0,1400.1)"><rect class="c7" x="640" y="-9.4" width="901.6" height="18.8"/><text class="lab" x="108" y="5">scalar LQ (pair prod.), coupling to 3<tspan class="u">rd</tspan> gen. fermions, <tspan class="i">β</tspan> = 1</text><text class="mm" x="630" y="4.5">M</text><text class="rng" x="1527" y="5">&lt;1.26</text><text class="ref" x="1553" y="5">CMS-PAS-EXO-19-016 (<tspan class="b">2τ + 2j</tspan>)</text><text class="lumi" x="2609" y="6">137 fb<tspan class="lu">−1</tspan></text></g>
<g id="r65" transform="translate(0,1421.6)"><rect class="c7" x="1481" y="-9.4" width="123.3" height="18.8"/><text class="lab" x="108" y="5">scalar LQ (single prod.), coupling to 1<tspan class="u">st</tspan> gen. fermions, <tspan class="i">β</tspan> = 1, <tspan class="i">λ</tspan> = 1</text><text class="mm" x="630" y="4.5">M</text><text class="rng" x="1590" y="5">1−1.6</text><text class="ref" x="1611" y="5">2107.13021 (<tspan class="b">≥ 1j + p<tspan class="rs">T</tspan><tspan class="ru" dx="-5.5">miss</tspan></tspan>)</text><text class="lumi" x="2609" y="6">101 fb<tspan class="lu">−1</tspan></text></g>
<g id="r66" transform="translate(0,1443)"><rect class="c7" x="640" y="-9.4" width="765.5" height="18.8"/><text class="lab" x="108" y="5">scalar LQ (single prod.), coupling to 3<tspan class="u">rd</tspan> gen. fermions, <tspan class="i">β</tspan> = 1, <tspan class="i">λ</tspan> = 1</text><text class="mm" x="630" y="4.5">M</text><text class="rng" x="1391" y="5">&lt;0.75</text><text class="ref" x="1421" y="5">CMS-PAS-EXO-19-016 (<tspan class="b">2τ + b</tspan>)</text><text class="lumi" x="2609" y="6">137 fb<tspan class="lu">−1</tspan></text></g>
<!-- Heavy Gauge Bosons -->
<g id="r68" transform="translate(0,1486)"><rect class="c8" x="640" y="-9.4" width="161.5" height="18.8"/><text class="lab" x="108" y="5">Z<tspan class="s i">D</tspan>, narrow resonance</text><text class="mm" x="630" y="4.5">M</text><text class="rng" x="787" y="5">0.0115−0.075</text><text class="ref" x="918" y="5">1912.04776 (<tspan class="b">2μ</tspan>)</text><text class="lumi" x="2609" y="6">137 fb<tspan class="lu">−1</tspan></text></g>
<g id="r69" transform="translate(0,1507.4)"><rect class="c8" x="902" y="-9.4" width="156.8" height="18.8"/><text class="lab" x="108" y="5">Z<tspan class="s i">D</tspan>, narrow resonance</text><text class="mm" x="630" y="4.5">M</text><text class="rng" x="1044" y="5">0.11−0.2</text><text class="ref" x="1109" y="5">1912.04776 (<tspan class="b">2μ</tspan>)</text><text class="lumi" x="2609" y="6">137 fb<tspan class="lu">−1</tspan></text></g>
<g id="r70" transform="translate(0,1528.9)"><rect class="c8" x="1058.8" y="-9.4" width="852.1" height="18.8"/><text class="lab" x="108" y="5">SSM Z′(<tspan class="i">ℓℓ</tspan>)</text><text class="mm" x="630" y="4.5">M</text><text class="rng" x="1896" y="5">0.2−5.15</text><text class="ref" x="1913" y="5">2103.02708 (<tspan class="b">2e, 2μ</tspan>)</text><text class="lumi" x="2609" y="6">140 fb<tspan class="lu">−1</tspan></text></g>
<g id="r71" transform="translate(0,1550.4)"><rect class="c8" x="1299.2" y="-9.4" width="461.1" height="18.8"/><text class="lab" x="108" y="5">SSM Z′(<tspan class="i">qq̄</tspan>)</text><text class="mm" x="630" y="4.5">M</text><text class="rng" x="1746" y="5">0.5−2.9</text><text class="ref" x="1764" y="5">1911.03947 (<tspan class="b">2j</tspan>)</text><text class="lumi" x="2609" y="6">137 fb<tspan class="lu">−1</tspan></text></g>
<g id="r72" transform="translate(0,1571.8)"><rect class="c8" x="640" y="-9.4" width="295.5" height="18.8"/><text class="lab" x="108" y="5">Z′(<tspan class="i">qq̄</tspan>)</text><text class="mm" x="630" y="4.5">M</text><text class="rng" x="921" y="5">0.01−0.125</text><text class="ref" x="1011" y="5">1905.10331 (<tspan class="b">1j, 1γ</tspan>)</text><text class="lumi" x="2609" y="6">36 fb<tspan class="lu">−1</tspan></text></g>
<g id="r73" transform="translate(0,1593.3)"><rect class="c8" x="1058.8" y="-9.4" width="822.5" height="18.8"/><text class="lab" x="108" y="5">Superstring Z′<tspan class="s i">ψ</tspan></text><text class="mm" x="630" y="4.5">M</text><text class="rng" x="1867" y="5">0.2−4.6</text><text class="ref" x="1884" y="5">2103.02708 (<tspan class="b">2e, 2μ</tspan>)</text><text class="lumi" x="2609" y="6">140 fb<tspan class="lu">−1</tspan></text></g>
<g id="r74" transform="translate(0,1614.8)"><rect class="c8" x="1058.8" y="-9.4" width="844.4" height="18.8"/><text class="lab" x="108" y="5">LFV Z′, BR(e<tspan class="i">μ</tspan>) = 10%</text><text class="mm" x="630" y="4.5">M</text><text class="rng" x="1889" y="5">0.2−5</text><text class="ref" x="1906" y="5">2205.06709 (<tspan class="b">eμ</tspan>)</text><text class="lumi" x="2609" y="6">137 fb<tspan class="lu">−1</tspan></text></g>
<g id="r75" transform="translate(0,1636.3)"><rect class="c8" x="1058.8" y="-9.4" width="804.8" height="18.8"/><text class="lab" x="108" y="5">LFV Z′, BR(e<tspan class="i">τ</tspan>) = 10%</text><text class="mm" x="630" y="4.5">M</text><text class="rng" x="1849" y="5">0.2−4.3</text><text class="ref" x="1867" y="5">2205.06709 (<tspan class="b">eτ</tspan>)</text><text class="lumi" x="2609" y="6">137 fb<tspan class="lu">−1</tspan></text></g>
<g id="r76" transform="translate(0,1657.7)"><rect class="c8" x="1058.8" y="-9.4" width="792.3" height="18.8"/><text class="lab" x="108" y="5">LFV Z′, BR(<tspan class="i">μτ</tspan>) = 10%</text><text class="mm" x="630" y="4.5">M</text><text class="rng" x="1837" y="5">0.2−4.1</text><text class="ref" x="1854" y="5">2205.06709 (<tspan class="b">μτ</tspan>)</text><text class="lumi" x="2609" y="6">137 fb<tspan class="lu">−1</tspan></text></g>
<g id="r77" transform="translate(0,1679.2)"><rect class="c8" x="695.2" y="-9.4" width="576.3" height="18.8"/><text class="lab" x="108" y="5">Leptophobic Z′</text><text class="mm" x="630" y="4.5">M</text><text class="rng" x="1257" y="5">0.05−0.45</text><text class="ref" x="1295" y="5">1909.04114 (<tspan class="b">2j</tspan>)</text><text class="lumi" x="2609" y="6">78 fb<tspan class="lu">−1</tspan></text></g>
<g id="r78" transform="translate(0,1700.7)"><rect class="c8" x="1240.6" y="-9.4" width="696.9" height="18.8"/><text class="lab" x="108" y="5">SSM W′(<tspan class="i">ℓν</tspan>)</text><text class="mm" x="630" y="4.5">M</text><text class="rng" x="1923" y="5">0.4−5.7</text><text class="ref" x="1940" y="5">2202.06075 (<tspan class="b"><tspan class="i">ℓ</tspan> + p<tspan class="rs">T</tspan><tspan class="ru" dx="-5.5">miss</tspan></tspan>)</text><text class="lumi" x="2609" y="6">137 fb<tspan class="lu">−1</tspan></text></g>
<g id="r79" transform="translate(0,1722.1)"><rect class="c8" x="1347" y="-9.4" width="545.5" height="18.8"/><text class="lab" x="108" y="5">SSM W′(<tspan class="i">τν</tspan>)</text><text class="mm" x="630" y="4.5">M</text><text class="rng" x="1878" y="5">0.6−4.8</text><text class="ref" x="1895" y="5">CMS-PAS-EXO-21-009 (<tspan class="b">τ + p<tspan class="rs">T</tspan><tspan class="ru" dx="-5.5">miss</tspan></tspan>)</text><text class="lumi" x="2609" y="6">137 fb<tspan class="lu">−1</tspan></text></g>
<g id="r80" transform="translate(0,1743.6)"><rect class="c8" x="1299.2" y="-9.4" width="517.8" height="18.8"/><text class="lab" x="108" y="5">SSM W′(<tspan class="i">qq̄</tspan>)</text><text class="mm" x="630" y="4.5">M</text><text class="rng" x="1803" y="5">0.5−3.6</text><text class="ref" x="1820" y="5">1911.03947 (<tspan class="b">2j</tspan>)</text><text class="lumi" x="2609" y="6">137 fb<tspan class="lu">−1</tspan></text></g>
<g id="r81" transform="translate(0,1765.1)"><rect class="c8" x="640" y="-9.4" width="1263.2" height="18.8"/><text class="lab" x="108" y="5">LRSM W<tspan class="s">R</tspan>(<tspan class="i">μN</tspan><tspan class="s">R</tspan>), <tspan class="i">M</tspan><tspan class="s">N</tspan><tspan class="ss">R</tspan> = 0.5<tspan class="i">M</tspan><tspan class="s">W</tspan><tspan class="ss">R</tspan></text><text class="mm" x="630" y="4.5">M</text><text class="rng" x="1889" y="5">&lt;5</text><text class="ref" x="1906" y="5">2112.03949 (<tspan class="b">2μ + 2j</tspan>)</text><text class="lumi" x="2609" y="6">36 fb<tspan class="lu">−1</tspan></text></g>
<g id="r82" transform="translate(0,1786.5)"><rect class="c8" x="640" y="-9.4" width="1247" height="18.8"/><text class="lab" x="108" y="5">LRSM W<tspan class="s">R</tspan>(<tspan class="i">eN</tspan><tspan class="s">R</tspan>), <tspan class="i">M</tspan><tspan class="s">N</tspan><tspan class="ss">R</tspan> = 0.5<tspan class="i">M</tspan><tspan class="s">W</tspan><tspan class="ss">R</tspan></text><text class="mm" x="630" y="4.5">M</text><text class="rng" x="1873" y="5">&lt;4.7</text><text class="ref" x="1890" y="5">2112.03949 (<tspan class="b">2e + 2j</tspan>)</text><text class="lumi" x="2609" y="6">36 fb<tspan class="lu">−1</tspan></text></g>
<g id="r83" transform="translate(0,1808)"><rect class="c8" x="640" y="-9.4" width="1169.6" height="18.8"/><text class="lab" x="108" y="5">LRSM W<tspan class="s">R</tspan>(<tspan class="i">τN</tspan><tspan class="s">R</tspan>), <tspan class="i">M</tspan><tspan class="s">N</tspan><tspan class="ss">R</tspan> = 0.5<tspan class="i">M</tspan><tspan class="s">W</tspan><tspan class="ss">R</tspan></text><text class="mm" x="630" y="4.5">M</text><text class="rng" x="1795" y="5">&lt;3.5</text><text class="ref" x="1814" y="5">1811.00806 (<tspan class="b">2τ + 2j</tspan>)</text><text class="lumi" x="2609" y="6">36 fb<tspan class="lu">−1</tspan></text></g>
<g id="r84" transform="translate(0,1829.5)"><rect class="c8" x="1299.2" y="-9.4" width="676.8" height="18.8"/><text class="lab" x="108" y="5">Axigluon, Coloron, <tspan class="i">cotθ</tspan> = 1</text><text class="mm" x="630" y="4.5">M</text><text class="rng" x="1962" y="5">0.5−6.6</text><text class="ref" x="1978" y="5">1911.03947 (<tspan class="b">2j</tspan>)</text><text class="lumi" x="2609" y="6">137 fb<tspan class="lu">−1</tspan></text></g>
</g>

<g id="connectors">
<line id="line-1tev" x1="1479" y1="0" x2="1479" y2="1843" stroke="#0628d2" stroke-width="7" stroke-dasharray="9 7"/>
<line id="line-10tev" x1="2087" y1="0" x2="2087" y2="1843" stroke="#c81e1e" stroke-width="7" stroke-dasharray="9 7"/>
</g>

<g id="highlights">
<rect id="hl-pseudoscalar" class="hl" x="76.5" y="483" width="1101" height="33.5" rx="16"/>
<rect id="hl-vlt" class="hl" x="96" y="1213" width="1409" height="55" rx="22"/>
<rect id="hl-lq-pair3" class="hl" x="96" y="1383.5" width="1454" height="30" rx="15"/>
<rect id="hl-lq-single3" class="hl" x="96" y="1426.5" width="1317" height="32" rx="16"/>
</g>

<g id="annotations">
<text id="t-3rd" class="big" x="1029" y="77" fill="#0628d2" textLength="413" lengthAdjust="spacingAndGlyphs">3rd family NP</text>
<text id="t-flavor1" class="big" x="1873" y="27" text-anchor="middle" fill="#c81e1e" textLength="209" lengthAdjust="spacingAndGlyphs">Flavor-</text>
<text id="t-flavor2" class="big" x="1873" y="126" text-anchor="middle" fill="#c81e1e" textLength="385" lengthAdjust="spacingAndGlyphs">universal NP</text>
<text id="t-1tev" class="bigd" transform="translate(1457,328) rotate(-90)" fill="#0628d2" textLength="160" lengthAdjust="spacingAndGlyphs">1 TeV</text>
<text id="t-10tev" class="bigd" transform="translate(2059,399) rotate(-90)" fill="#c81e1e" textLength="196" lengthAdjust="spacingAndGlyphs">10 TeV</text>
</g>
</svg>
